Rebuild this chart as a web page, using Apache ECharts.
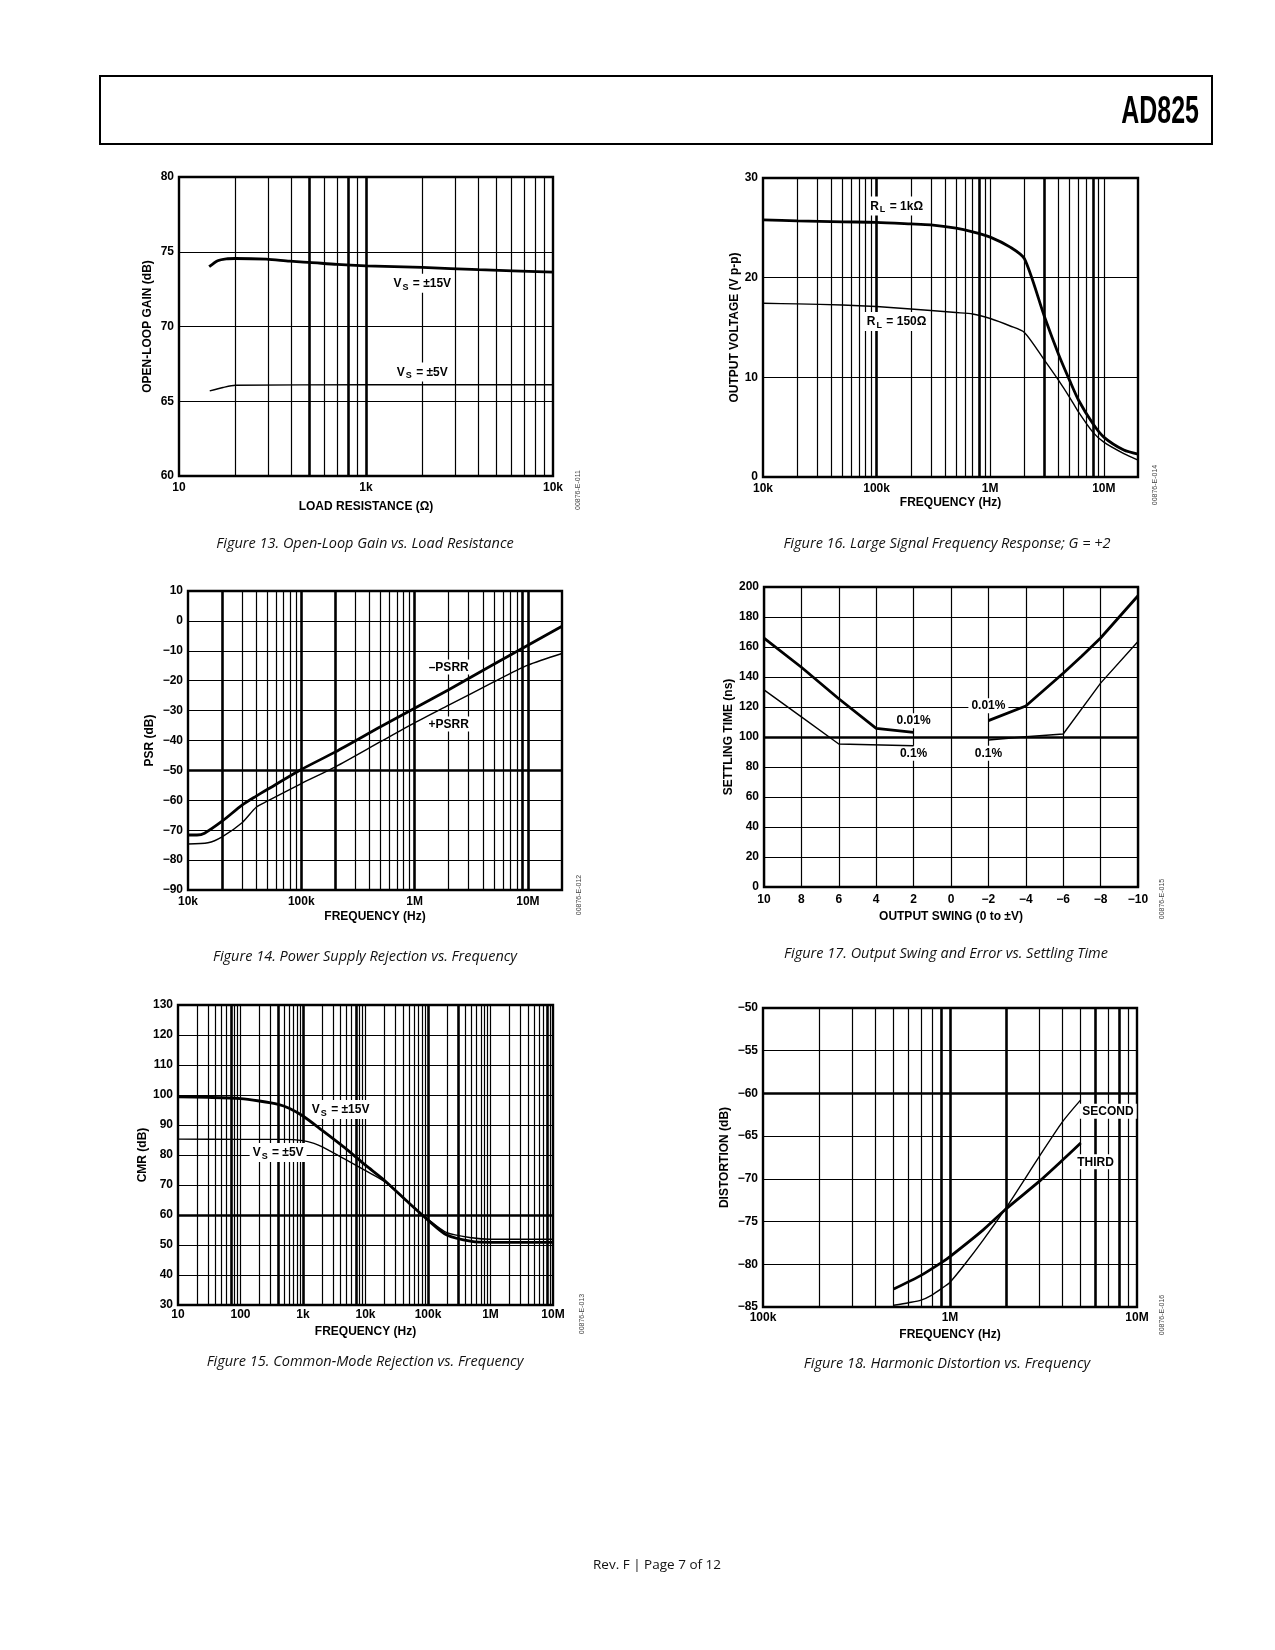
<!DOCTYPE html>
<html><head><meta charset="utf-8">
<script src="https://cdn.jsdelivr.net/npm/echarts@6/dist/echarts.min.js"></script>
<style>html,body{margin:0;padding:0;background:#fff;} #c{width:1275px;height:1650px;}</style>
</head><body><div id="c"></div>
<script>
// ---------- Figure 13: Open-loop gain vs load resistance ----------
const f13Load15 = [145, 161, 179, 200, 293, 390, 500, 700, 1000, 2000, 4000, 10000];
const f13Gain15 = [74.0, 74.4, 74.53, 74.55, 74.5, 74.37, 74.29, 74.15, 74.06, 73.95, 73.8, 73.64];
const f13Load5 = [146, 172, 200, 1000, 10000];
const f13Gain5 = [65.69, 65.92, 66.07, 66.1, 66.1];
const f13XTickVals = [100, 1000, 10000];
const f13XTickText = ['10', '1k', '10k'];

// ---------- Figure 16: Large signal frequency response ----------
const f16Freq = [1e4, 2e4, 5e4, 1e5, 2e5, 3e5, 5e5, 7e5, 1e6, 1.5e6, 2e6, 3e6, 4e6, 5e6, 6e6, 8e6, 1e7, 1.5e7, 2e7];
const f16RL1k = [25.8, 25.7, 25.6, 25.55, 25.4, 25.3, 24.97, 24.6, 24.07, 23.06, 21.9, 16.1, 12.3, 9.7, 7.7, 5.36, 4.0, 2.7, 2.3];
const f16RL150 = [17.43, 17.37, 17.26, 17.1, 16.86, 16.7, 16.5, 16.36, 15.9, 15.15, 14.5, 11.73, 9.7, 8.0, 6.5, 4.5, 3.5, 2.35, 1.7];
const f16XTickVals = [1e4, 1e5, 1e6, 1e7];
const f16XTickText = ['10k', '100k', '1M', '10M'];

// ---------- Figure 14: Power supply rejection ----------
const f14FreqM = [1e4, 1.2e4, 1.4e4, 2e4, 3e4, 4e4, 5e4, 1e5, 2e5, 5e5, 1e6, 2e6, 5e6, 1e7, 2e7];
const f14MinusPSRR = [-71.6, -71.6, -71.0, -67.0, -61.6, -58.6, -56.4, -49.7, -43.8, -35.4, -29.2, -23.0, -14.5, -8.15, -1.8];
const f14FreqP = [1e4, 1.5e4, 2e4, 3e4, 4e4, 5e4, 1e5, 2e5, 5e5, 1e6, 2e6, 5e6, 1e7, 2e7];
const f14PlusPSRR = [-74.6, -74.2, -72.2, -67.5, -62.3, -60.3, -54.4, -48.8, -40.4, -34.1, -28.2, -20.4, -14.8, -10.9];
const f14XTickVals = [1e4, 1e5, 1e6, 1e7];
const f14XTickText = ['10k', '100k', '1M', '10M'];

// ---------- Figure 17: Output swing vs settling time ----------
const f17Left001X = [10, 8, 6, 4, 2];
const f17Left001 = [165.9, 146.5, 125.5, 105.8, 103.1];
const f17Left01X = [10, 8, 6, 2];
const f17Left01 = [131.4, 113.4, 95.3, 94.2];
const f17Right001X = [-2, -4, -6, -7, -8, -10];
const f17Right001 = [110.9, 120.7, 142.5, 154, 166, 194.2];
const f17Right01X = [-2, -4, -6, -8, -10];
const f17Right01 = [98, 100.2, 102, 135.9, 163.7];

// ---------- Figure 15: Common-mode rejection ----------
const f15Freq15 = [10, 30, 100, 200, 400, 600, 1e3, 2e3, 5e3, 1e4, 2e4, 5e4, 1e5, 2e5, 5e5, 1e6, 1e7];
const f15CMR15 = [99.4, 99.2, 98.8, 98.0, 96.9, 95.6, 93.0, 88.3, 81.9, 76.6, 71.6, 63.9, 58.3, 53.3, 51.2, 50.9, 50.9];
const f15Freq5 = [10, 100, 500, 1e3, 1.5e3, 2e3, 5e3, 1e4, 2e4, 5e4, 1e5, 2e5, 5e5, 1e6, 1e7];
const f15CMR5 = [85.3, 85.2, 85.2, 84.8, 83.9, 82.8, 78.3, 74.8, 71.2, 63.9, 58.6, 54.1, 52.4, 51.9, 51.9];
const f15XTickVals = [10, 100, 1e3, 1e4, 1e5, 1e6, 1e7];
const f15XTickText = ['10', '100', '1k', '10k', '100k', '1M', '10M'];

// ---------- Figure 18: Harmonic distortion ----------
const f18FreqThird = [5e5, 7e5, 9e5, 1e6, 1.5e6, 2e6, 3e6, 4e6, 5e6];
const f18Third = [-82.9, -81.3, -79.8, -79.1, -76.0, -73.5, -70.3, -67.8, -65.8];
const f18FreqSecond = [5e5, 6e5, 7e5, 8e5, 9e5, 1e6, 1.2e6, 1.5e6, 2e6, 3e6, 4e6, 5e6];
const f18Second = [-84.8, -84.5, -84.2, -83.6, -82.85, -82.1, -80.0, -77.2, -73.35, -67.4, -63.3, -60.75];
const f18XTickVals = [1e5, 1e6, 1e7];
const f18XTickText = ['100k', '1M', '10M'];

// ---------- styling ----------
const FONT = "'Liberation Sans', Arial, Helvetica, sans-serif";
const CAPFONT = "'Open Sans', 'Noto Sans', sans-serif";
const THIN = 1.2, HEAVY = 2.6;

function zip(xs, ys) { return xs.map((x, i) => [x, ys[i]]); }
function logLines(min, max) {
  const out = [];
  for (let e = Math.floor(Math.log10(min)); e <= Math.ceil(Math.log10(max)); e++)
    for (let m = 1; m <= 9; m++) {
      const v = m * Math.pow(10, e);
      if (v > min * 1.0001 && v < max * 0.9999) out.push(v);
    }
  return out;
}
function minus(v) { return String(v).replace('-', '\u2212'); }
function sub(a, s, b) { return '{m|' + a + '}{s|' + s + '}{m|' + b + '}'; }

const figs = [
  { grid: {left: 179, top: 177, width: 374, height: 299},
    log: true, xMin: 100, xMax: 10000, tv: f13XTickVals, tt: f13XTickText,
    yMin: 60, yMax: 80, yInt: 5,
    xName: 'LOAD RESISTANCE (\u03A9)', yName: 'OPEN-LOOP GAIN (dB)', xGap: 25, yGap: 25, xMargin: 6,
    vHeavy: [500, 800, 1000], hHeavy: [],
    series: [{d: zip(f13Load15, f13Gain15), w: 2.8}, {d: zip(f13Load5, f13Gain5), w: 1.4}],
    labels: [{c: [2000, 72.9], t: sub('V', 'S', ' = \u00B115V')}, {c: [2000, 66.96], t: sub('V', 'S', ' = \u00B15V')}],
    cap: 'Figure 13. Open-Loop Gain vs. Load Resistance', capX: 365, capY: 544,
    id: '00876-E-011', idX: 578, idY: 490 },
  { grid: {left: 763, top: 178, width: 375, height: 299},
    log: true, xMin: 1e4, xMax: 2e7, tv: f16XTickVals, tt: f16XTickText,
    yMin: 0, yMax: 30, yInt: 10,
    xName: 'FREQUENCY (Hz)', yName: 'OUTPUT VOLTAGE (V p-p)', xGap: 20, yGap: 22, xMargin: 6,
    vHeavy: [1e5, 8e5, 3e6, 8e6], hHeavy: [],
    series: [{d: zip(f16Freq, f16RL1k), w: 2.8}, {d: zip(f16Freq, f16RL150), w: 1.4}],
    labels: [{c: [1.5e5, 27.2], t: sub('R', 'L', ' = 1k\u03A9')}, {c: [1.5e5, 15.6], t: sub('R', 'L', ' = 150\u03A9')}],
    cap: 'Figure 16. Large Signal Frequency Response; G = +2', capX: 947, capY: 544,
    id: '00876-E-014', idX: 1155, idY: 485 },
  { grid: {left: 188, top: 591, width: 374, height: 299},
    log: true, xMin: 1e4, xMax: 2e7, tv: f14XTickVals, tt: f14XTickText,
    yMin: -90, yMax: 10, yInt: 10,
    xName: 'FREQUENCY (Hz)', yName: 'PSR (dB)', xGap: 21, yGap: 32, xMargin: 6,
    vHeavy: [2e4, 1e5, 2e5, 1e6, 9e6, 1e7], hHeavy: [-50],
    series: [{d: zip(f14FreqM, f14MinusPSRR), w: 2.8}, {d: zip(f14FreqP, f14PlusPSRR), w: 1.4}],
    labels: [{c: [2e6, -15.4], t: '{m|\u2013PSRR}'}, {c: [2e6, -34.5], t: '{m|+PSRR}'}],
    cap: 'Figure 14. Power Supply Rejection vs. Frequency', capX: 365, capY: 957,
    id: '00876-E-012', idX: 579, idY: 895 },
  { grid: {left: 764, top: 587, width: 374, height: 300},
    log: false, xMin: -10, xMax: 10, xInt: 2,
    yMin: 0, yMax: 200, yInt: 20,
    xName: 'OUTPUT SWING (0 to \u00B1V)', yName: 'SETTLING TIME (ns)', xGap: 24, yGap: 29, xMargin: 7,
    vHeavy: [], hHeavy: [100],
    series: [{d: zip(f17Left001X, f17Left001), w: 2.8}, {d: zip(f17Left01X, f17Left01), w: 1.4},
             {d: zip(f17Right001X, f17Right001), w: 2.8}, {d: zip(f17Right01X, f17Right01), w: 1.4}],
    labels: [{c: [2, 110.9], t: '{m|0.01%}'}, {c: [-2, 120.9], t: '{m|0.01%}'},
             {c: [2, 89.1], t: '{m|0.1%}'}, {c: [-2, 89.1], t: '{m|0.1%}'}],
    cap: 'Figure 17. Output Swing and Error vs. Settling Time', capX: 946, capY: 954,
    id: '00876-E-015', idX: 1162, idY: 899 },
  { grid: {left: 178, top: 1005, width: 375, height: 300},
    log: true, xMin: 10, xMax: 1e7, tv: f15XTickVals, tt: f15XTickText,
    yMin: 30, yMax: 130, yInt: 10,
    xName: 'FREQUENCY (Hz)', yName: 'CMR (dB)', xGap: 21, yGap: 24, xMargin: 4,
    vHeavy: [70, 400, 1000, 7000, 1e5, 3e5, 8e6], hHeavy: [60],
    series: [{d: zip(f15Freq15, f15CMR15), w: 2.8}, {d: zip(f15Freq5, f15CMR5), w: 1.4}],
    labels: [{c: [4000, 95.2], t: sub('V', 'S', ' = \u00B115V')}, {c: [400, 80.8], t: sub('V', 'S', ' = \u00B15V')}],
    cap: 'Figure 15. Common-Mode Rejection vs. Frequency', capX: 365, capY: 1362,
    id: '00876-E-013', idX: 582, idY: 1314 },
  { grid: {left: 763, top: 1008, width: 374, height: 299},
    log: true, xMin: 1e5, xMax: 1e7, tv: f18XTickVals, tt: f18XTickText,
    yMin: -85, yMax: -50, yInt: 5,
    xName: 'FREQUENCY (Hz)', yName: 'DISTORTION (dB)', xGap: 22, yGap: 32, xMargin: 5,
    vHeavy: [9e5, 1e6, 2e6, 6e6, 8e6], hHeavy: [-60],
    series: [{d: zip(f18FreqThird, f18Third), w: 2.8}, {d: zip(f18FreqSecond, f18Second), w: 1.4}],
    labels: [{c: [7e6, -62.1], t: '{m|SECOND}'}, {c: [6e6, -68.0], t: '{m|THIRD}'}],
    cap: 'Figure 18. Harmonic Distortion vs. Frequency', capX: 947, capY: 1364,
    id: '00876-E-016', idX: 1162, idY: 1315 }
];

const tickLabel = {color: '#000', fontFamily: FONT, fontWeight: 'bold', fontSize: 12};
const nameStyle = {color: '#000', fontFamily: FONT, fontWeight: 'bold', fontSize: 12};
const grids = [], xAxes = [], yAxes = [], series = [], graphic = [];

figs.forEach((f, i) => {
  grids.push(Object.assign({show: true, borderColor: '#000', borderWidth: 2.4, backgroundColor: '#fff', containLabel: false}, f.grid));
  const xa = {gridIndex: i, min: f.xMin, max: f.xMax, axisLine: {show: false}, axisTick: {show: false},
    name: f.xName, nameLocation: 'middle', nameGap: f.xGap, nameTextStyle: nameStyle,
    axisLabel: Object.assign({margin: f.xMargin, showMinLabel: true, showMaxLabel: true, hideOverlap: false}, tickLabel)};
  if (f.log) {
    xa.type = 'log'; xa.logBase = 10; xa.splitLine = {show: false};
    const tv = f.tv, tt = f.tt;
    xa.axisLabel.formatter = v => { const k = tv.findIndex(t => Math.abs(t - v) / t < 1e-6); return k >= 0 ? tt[k] : ''; };
  } else {
    xa.type = 'value'; xa.interval = f.xInt; xa.inverse = true;
    xa.splitLine = {show: true, lineStyle: {color: '#000', width: THIN}};
    xa.axisLabel.formatter = v => minus(v);
  }
  xAxes.push(xa);
  yAxes.push({type: 'value', gridIndex: i, min: f.yMin, max: f.yMax, interval: f.yInt,
    axisLine: {show: false}, axisTick: {show: false},
    splitLine: {show: true, lineStyle: {color: '#000', width: THIN}},
    name: f.yName, nameLocation: 'middle', nameGap: f.yGap, nameRotate: 90, nameTextStyle: nameStyle,
    axisLabel: Object.assign({margin: 5, formatter: v => minus(v)}, tickLabel)});

  const ml = [];
  if (f.log) logLines(f.xMin, f.xMax).forEach(v => {
    const heavy = f.vHeavy.some(h => Math.abs(h - v) / v < 1e-6);
    ml.push({xAxis: v, lineStyle: {width: heavy ? HEAVY : THIN}});
  });
  f.hHeavy.forEach(v => ml.push({yAxis: v, lineStyle: {width: HEAVY}}));

  series.push({type: 'line', xAxisIndex: i, yAxisIndex: i, data: [], z: 1, silent: true, animation: false,
    markLine: {silent: true, symbol: ['none', 'none'], animation: false, z: 1, label: {show: false},
      lineStyle: {color: '#000', type: 'solid'}, emphasis: {disabled: true}, data: ml},
    markPoint: {silent: true, symbol: 'circle', symbolSize: 0, animation: false, z: 2,
      data: f.labels.map(l => ({coord: l.c, label: {show: true, position: 'inside', formatter: () => l.t,
        backgroundColor: '#fff', padding: [2, 3, 1, 3],
        rich: {m: {fontFamily: FONT, fontWeight: 'bold', fontSize: 12, color: '#000'},
               s: {fontFamily: FONT, fontWeight: 'bold', fontSize: 9, color: '#000', padding: [7, 1, 0, 1]}}}}))}
  });
  f.series.forEach(s => series.push({type: 'line', xAxisIndex: i, yAxisIndex: i, data: s.d, z: 3,
    showSymbol: false, symbol: 'none', smooth: f.log ? 0.25 : false, animation: false, silent: true,
    lineStyle: {color: '#000', width: s.w}}));

  graphic.push({type: 'text', x: f.capX, y: f.capY, style: {text: f.cap, align: 'center', verticalAlign: 'middle',
    textAlign: 'center', textVerticalAlign: 'middle', font: "italic 14.5px " + CAPFONT, fill: '#111'}});
  graphic.push({type: 'text', x: f.idX, y: f.idY, rotation: Math.PI / 2, style: {text: f.id, align: 'center', verticalAlign: 'middle',
    textAlign: 'center', textVerticalAlign: 'middle', font: "7px " + FONT, fill: '#444'}});
});

graphic.push({type: 'rect', shape: {x: 100, y: 76, width: 1112, height: 68}, style: {fill: 'none', stroke: '#000', lineWidth: 2}});
graphic.push({type: 'text', x: 1199, y: 112, scaleX: 0.64, style: {text: 'AD825', align: 'right', verticalAlign: 'middle',
  textAlign: 'right', textVerticalAlign: 'middle', font: "bold 39px " + FONT, fill: '#000'}});
graphic.push({type: 'text', x: 657, y: 1565, style: {text: 'Rev. F | Page 7 of 12', align: 'center', verticalAlign: 'middle',
  textAlign: 'center', textVerticalAlign: 'middle', font: "13.5px " + CAPFONT, fill: '#111'}});

const chart = echarts.init(document.getElementById('c'), null, {renderer: 'canvas'});
chart.setOption({animation: false, backgroundColor: '#fff', grid: grids, xAxis: xAxes, yAxis: yAxes, series: series, graphic: graphic});
</script></body></html>
